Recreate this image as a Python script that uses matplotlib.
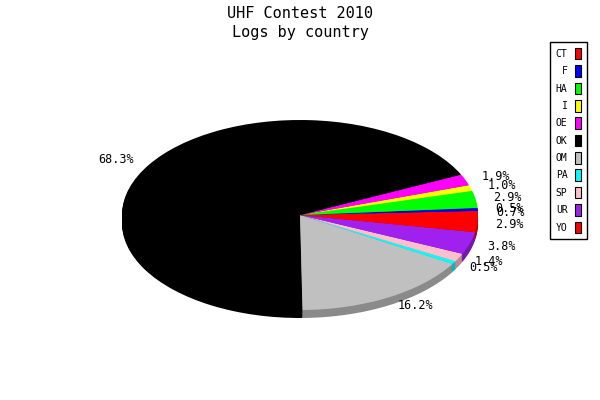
import numpy as np
import matplotlib
matplotlib.use('Agg')
import matplotlib.pyplot as plt
from matplotlib.patches import Patch
from matplotlib.colors import to_rgb

plt.rcParams['font.family'] = 'DejaVu Sans Mono'

countries = ['CT', 'F', 'HA', 'I', 'OE', 'OK', 'OM', 'PA', 'SP', 'UR', 'YO']
shares = [0.7, 0.5, 2.9, 1.0, 1.9, 68.3, 16.2, 0.5, 1.4, 3.8, 2.9]
colors = ['#ff0000', '#0000ff', '#00ff00', '#ffff00', '#ff00ff', '#000000',
          '#c0c0c0', '#00ffff', '#ffc0cb', '#a020f0', '#ff0000']

# pixel geometry of the ellipse (600x400 canvas)
cx, cy = 300, 215
rx, ry = 178, 95
depth = 8

fig = plt.figure(figsize=(6, 4), dpi=100)
ax = fig.add_axes([0, 0, 1, 1])

dark = [tuple(c * 0.72 for c in to_rgb(col)) for col in colors]
step = 1.0 / ry
for k in range(depth, 0, -1):
    ax.pie(shares, colors=dark, center=(0, -k * step), radius=1,
           wedgeprops={'linewidth': 0}, frame=True)

labels = ['%.1f%%' % v for v in shares]
wedges, texts = ax.pie(shares, colors=colors, labels=labels, labeldistance=1.1,
                       center=(0, 0), radius=1, wedgeprops={'linewidth': 0},
                       textprops={'fontsize': 8.5}, frame=True)

ax.set_aspect('auto')
ax.set_xlim(-cx / rx, (600 - cx) / rx)
ax.set_ylim(-(400 - cy) / ry, cy / ry)
ax.axis('off')

fig.text(0.5, 1 - 14 / 400, 'UHF Contest 2010', ha='center', va='center', fontsize=11)
fig.text(0.5, 1 - 32 / 400, 'Logs by country', ha='center', va='center', fontsize=11)

handles = [Patch(facecolor=c, edgecolor='black', linewidth=0.8) for c in colors]
leg = fig.legend(handles, countries, loc='upper right',
                 bbox_to_anchor=(587 / 600, 1 - 42 / 400), markerfirst=False,
                 fontsize=7, handlelength=0.6, handleheight=1.45,
                 handletextpad=0.8, labelspacing=0.6, borderpad=0.6,
                 borderaxespad=0, fancybox=False, framealpha=1)
leg.get_frame().set_edgecolor('black')
leg.get_frame().set_linewidth(1)

fig.savefig('out.png', dpi=100)
